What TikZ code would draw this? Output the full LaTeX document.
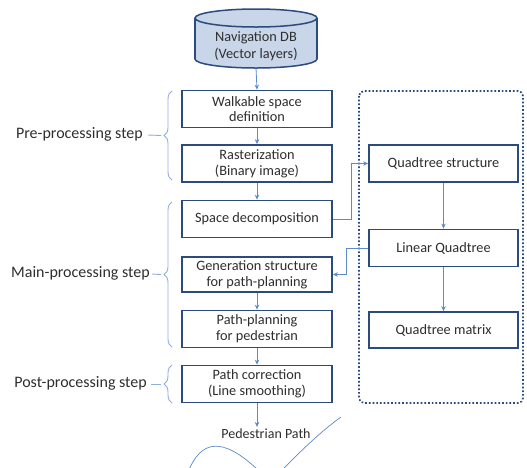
\documentclass[tikz,border=0pt]{standalone}
\usepackage{fontspec}
\setmainfont{Carlito}
\usetikzlibrary{arrows.meta,decorations.pathreplacing,calc}
\definecolor{navy}{HTML}{2B4A7E}
\definecolor{conn}{HTML}{5B8BC9}
\definecolor{bracec}{HTML}{8DAEDC}
\definecolor{dbfill}{HTML}{C9D5E8}
\definecolor{txt}{HTML}{2E2E2E}
\begin{document}
\begin{tikzpicture}[x=1pt,y=-1pt,
  stepbox/.style={draw=navy,line width=1.8pt,fill=white,minimum width=150pt,minimum height=37pt,inner sep=1pt,align=center,text=txt,font=\fontsize{14.3}{15.8}\selectfont},
  conline/.style={draw=conn,line width=0.8pt,-{Stealth[length=5pt,width=4.5pt]}},
  bracestyle/.style={draw=bracec,line width=0.9pt,decorate,decoration={brace,amplitude=8pt}},
  steplabel/.style={text=txt,font=\fontsize{16}{18}\selectfont,anchor=east,inner sep=0pt},
  dashline/.style={draw=bracec,line width=0.9pt}]
\useasboundingbox (0,0) rectangle (527,467);
% cylinder
\fill[dbfill] (195,18) rectangle (317,59);
\fill[dbfill] (256,59) ellipse[x radius=61,y radius=9];
\begin{scope}
\clip (190,59) rectangle (322,72);
\draw[navy,line width=1.5pt] (256,59) ellipse[x radius=61,y radius=9];
\end{scope}
\draw[navy,line width=1.5pt,fill=dbfill] (256,18) ellipse[x radius=61,y radius=9];
\draw[navy,line width=1.5pt] (195,18) -- (195,59) (317,18) -- (317,59);
\node[text=txt,font=\fontsize{14.3}{16.5}\selectfont,align=center,inner sep=0pt] (db) at (256,46) {Navigation DB\\(Vector layers)};
\coordinate (dbs) at (256,68);
% left column
\node[stepbox] (b1) at (257,109) {Walkable space\\definition};
\node[stepbox] (b2) at (257,163.5) {Rasterization\\(Binary image)};
\node[stepbox] (b3) at (257,219) {Space decomposition};
\node[stepbox,minimum height=35pt] (b4) at (257,274.5) {Generation structure\\for path-planning};
\node[stepbox] (b5) at (257,329) {Path-planning\\for pedestrian};
\node[stepbox] (b6) at (257,384) {Path correction\\(Line smoothing)};
\node[text=txt,font=\fontsize{14}{16}\selectfont,inner sep=2pt] (pp) at (266,434) {Pedestrian Path};
% dotted container
\draw[navy,line width=1.7pt,dotted,rounded corners=5pt] (359,91) rectangle (523,403);
% right column
\node[stepbox,minimum width=149pt] (qs) at (443.5,163.5) {Quadtree structure};
\node[stepbox,minimum width=149pt] (lq) at (443.5,248) {Linear Quadtree};
\node[stepbox,minimum width=149pt,minimum height=36pt] (qm) at (443.5,330) {Quadtree matrix};
% connectors
\draw[conline] (dbs) -- (b1.north);
\draw[conline] (b1) -- (b2);
\draw[conline] (b2) -- (b3);
\draw[conline] (b4) -- (b5);
\draw[conline] (b5) -- (b6);
\draw[conline] (b6.south) -- (pp.north -| b6.south);
\draw[conline] (qs) -- (lq);
\draw[conline] (lq) -- (qm);
\draw[conline] (b3.east) -- ++(18,0) |- (qs.west);
\draw[conline] (lq.west) -- ++(-22,0) |- (b4.east);
% braces
\draw[bracestyle] (172,180) -- (172,91);
\draw[bracestyle] (172,347) -- (172,202);
\draw[bracestyle] (172,403) -- (172,365);
\coordinate (t1) at (161,135.5);
\coordinate (t2) at (161,274.5);
\coordinate (t3) at (161,384);
\node[steplabel] (l1) at (143,134) {Pre-processing step};
\node[steplabel] (l2) at (150,273) {Main-processing step};
\node[steplabel] (l3) at (147,383) {Post-processing step};
\draw[dashline] (l1.east) ++(5,1) -- (t1);
\draw[dashline] (l2.east) ++(2,1) -- (t2);
\draw[dashline] (l3.east) ++(4,1) -- (t3);
% wave
\begin{scope}
\clip (0,0) rectangle (527,467);
\draw[conn,line width=0.7pt] (188,472) .. controls (201,440) and (222,436) .. (258,470);
\draw[conn,line width=0.7pt] (282,470) .. controls (300,452) and (320,432) .. (341,417);
\end{scope}
\end{tikzpicture}
\end{document}
